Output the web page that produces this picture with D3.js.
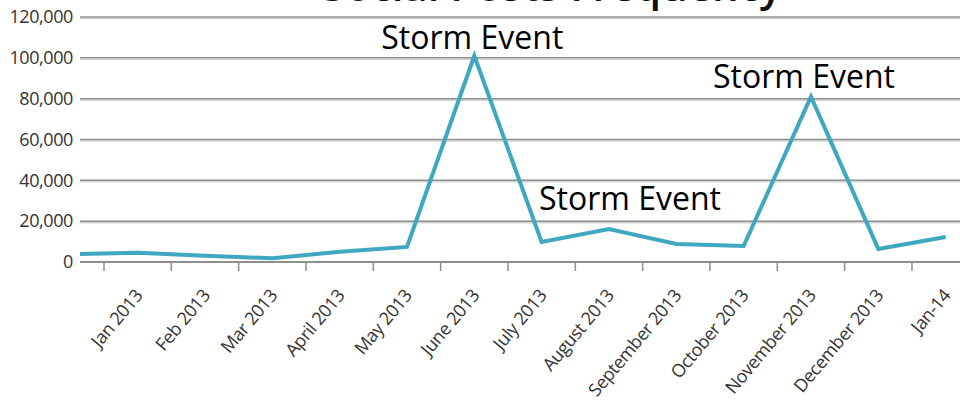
<!DOCTYPE html>
<html>
<head>
<meta charset="utf-8">
<title>Posts Frequency</title>
<script src="https://cdn.jsdelivr.net/npm/d3@7/dist/d3.min.js"></script>
<style>
  body { margin: 0; background: #fff; overflow: hidden; }
  #container svg { display: block; }
  .tick-label { font: 18px 'Open Sans', sans-serif; fill: #333; letter-spacing: -0.4px; }
  .note { font: 32px 'Open Sans', sans-serif; fill: #000; }
</style>
</head>
<body>
<div id="container"></div>
<script>
// months along the x axis (first one sits left of the plot and is clipped)
var months = ["Dec 2012", "Jan 2013", "Feb 2013", "Mar 2013", "April 2013", "May 2013", "June 2013",
  "July 2013", "August 2013", "September 2013", "October 2013", "November 2013", "December 2013", "Jan-14"];
var posts = [3800, 4500, 3100, 1800, 5000, 7400, 101000, 9800, 16200, 8800, 7800, 81000, 6400, 12200];
var yTicks = [0, 20000, 40000, 60000, 80000, 100000, 120000];
var noteMonths = ["June 2013", "August 2013", "November 2013"];
var noteTexts = ["Storm Event", "Storm Event", "Storm Event"];
var title = "Social Posts Frequency";

var width = 960, height = 405;
var plotLeft = 80, plotTop = 17, plotBottom = 262;
var step = 67.33;

var svg = d3.select("#container").append("svg")
  .attr("width", width).attr("height", height);

var x = d3.scaleBand().domain(months)
  .range([104 - step, 104 + (months.length - 1) * step]).padding(0);
var y = d3.scaleLinear().domain([0, 120000]).range([plotBottom, plotTop]);

// title, mostly above the top edge as in the source crop
svg.append("text")
  .attr("x", 552).attr("y", 1)
  .attr("text-anchor", "middle")
  .style("font", "600 42px 'Open Sans', sans-serif")
  .style("fill", "#111")
  .text(title);

// gridlines
var grid = svg.append("g");
grid.selectAll("line.shadow").data(yTicks.slice(1)).enter().append("line")
  .attr("class", "shadow")
  .attr("x1", plotLeft).attr("x2", width)
  .attr("y1", function (d) { return y(d) + 1.5; }).attr("y2", function (d) { return y(d) + 1.5; })
  .attr("stroke", "#d4d4d4").attr("stroke-width", 1.5);
grid.selectAll("line.main").data(yTicks.slice(1)).enter().append("line")
  .attr("class", "main")
  .attr("x1", plotLeft).attr("x2", width)
  .attr("y1", function (d) { return y(d); }).attr("y2", function (d) { return y(d); })
  .attr("stroke", "#8e8e8e").attr("stroke-width", 1.5);

// y labels
svg.selectAll("text.ylab").data(yTicks).enter().append("text")
  .attr("class", "tick-label ylab")
  .attr("x", 73).attr("y", function (d) { return y(d); })
  .attr("dy", "0.35em").attr("text-anchor", "end")
  .text(d3.format(","));

// x axis line + ticks at band edges
svg.append("line")
  .attr("x1", plotLeft).attr("x2", width)
  .attr("y1", plotBottom).attr("y2", plotBottom)
  .attr("stroke", "#8e8e8e").attr("stroke-width", 2);
var shown = months.slice(1);
svg.selectAll("line.xtick").data(shown).enter().append("line")
  .attr("class", "xtick")
  .attr("x1", function (d) { return x(d); }).attr("x2", function (d) { return x(d); })
  .attr("y1", plotBottom).attr("y2", plotBottom + 9)
  .attr("stroke", "#8e8e8e").attr("stroke-width", 1.5);

svg.selectAll("text.xlab").data(shown).enter().append("text")
  .attr("class", "tick-label xlab")
  .attr("text-anchor", "end")
  .attr("transform", function (d) {
    return "translate(" + (x(d) + x.bandwidth() / 2 + 6) + "," + 296 + ") rotate(-50)";
  })
  .text(function (d) { return d; });

// series line, clipped to plot area
svg.append("clipPath").attr("id", "plot-clip")
  .append("rect").attr("x", plotLeft).attr("y", 0)
  .attr("width", width - plotLeft).attr("height", plotBottom + 5);

var line = d3.line()
  .x(function (d, i) { return x(months[i]) + x.bandwidth() / 2; })
  .y(function (d) { return y(d); });

svg.append("path")
  .datum(posts)
  .attr("clip-path", "url(#plot-clip)")
  .attr("fill", "none")
  .attr("stroke", "#40a7c0")
  .attr("stroke-width", 4)
  .attr("stroke-linejoin", "miter")
  .attr("d", line);

// storm annotations
var noteOffsets = [[-2, -7], [21, -19], [-7, -9]];
svg.selectAll("text.note").data(noteMonths).enter().append("text")
  .attr("class", "note")
  .attr("text-anchor", "middle")
  .attr("x", function (d, i) { return x(d) + x.bandwidth() / 2 + noteOffsets[i][0]; })
  .attr("y", function (d, i) { return y(posts[months.indexOf(d)]) + noteOffsets[i][1]; })
  .text(function (d, i) { return noteTexts[i]; });
</script>
</body>
</html>
